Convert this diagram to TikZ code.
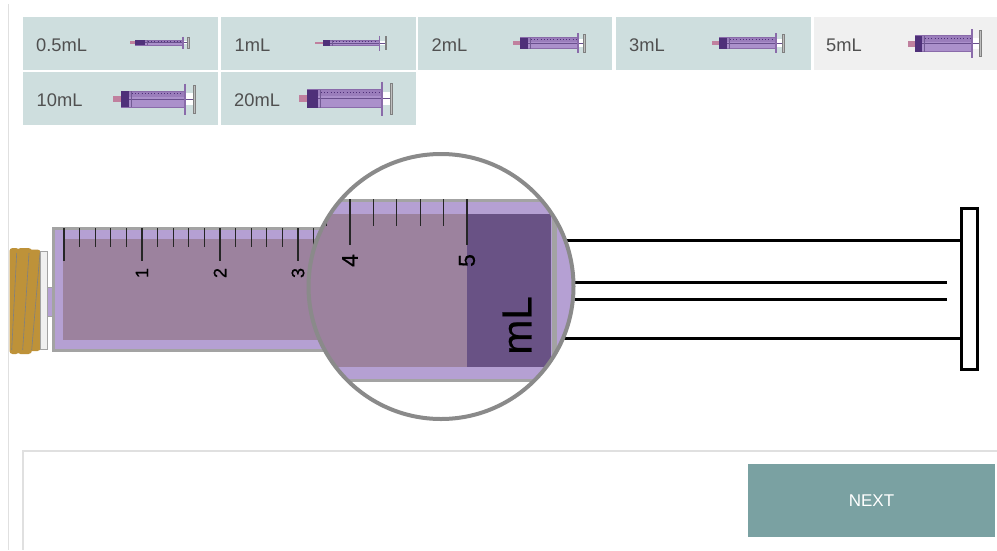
\documentclass[tikz,border=0pt]{standalone}
\usepackage{fontspec}
\setmainfont{Liberation Sans}
\newfontfamily\semib[FakeBold=0.6]{Liberation Sans}
\definecolor{tilec}{HTML}{CEDEDE}
\definecolor{tilesel}{HTML}{F0F0F0}
\definecolor{lilac}{HTML}{B5A0D3}
\definecolor{liquid}{HTML}{9C829E}
\definecolor{darkliq}{HTML}{695285}
\definecolor{barrelg}{HTML}{A3A3A3}
\definecolor{ringg}{HTML}{8A8A8A}
\definecolor{gold}{HTML}{BE9239}
\definecolor{btn}{HTML}{7AA1A2}
\definecolor{labc}{HTML}{505050}
\definecolor{mbar}{HTML}{AB90CB}
\definecolor{mband}{HTML}{9A7DBB}
\definecolor{mdark}{HTML}{4F3079}
\definecolor{mline}{HTML}{8A6BAA}
\definecolor{mtip}{HTML}{C0809E}
\tikzset{
  tilebox/.style={draw=none,fill=tilec,inner sep=0pt,minimum height=53pt,text width=0pt},
  tiletxt/.style={anchor=base west,inner sep=0pt,text=labc,font=\fontsize{18.3}{20}\selectfont},
  scalenum/.style={rotate=90,inner sep=0pt,text=black,font=\semib\fontsize{18}{18}\selectfont},
  bignum/.style={rotate=90,inner sep=0pt,text=black,font=\semib\fontsize{23}{23}\selectfont},
  tickline/.style={draw=black!85,line width=1.2pt},
  rod/.style={draw=black,line width=3pt},
}
% tipL tipR darkR barrelR endR cy hh fh
\newcommand{\minisyr}[8]{%
  \fill[mtip] (#1,#6-#7*0.3-0.6) rectangle (#2,#6+#7*0.3+0.6);
  \fill[white] (#4,#6-#7*0.7) rectangle (#5,#6+#7*0.7);
  \fill[mbar] (#2,#6-#7) rectangle (#4,#6+#7);
  \fill[mband] (#2,#6-#7) rectangle (#4,#6-#7*0.25);
  \draw[mline,line width=0.8pt] (#2,#6-#7) rectangle (#4,#6+#7);
  \fill[mdark] (#2,#6-#7) rectangle (#3,#6+#7);
  \draw[mdark!85,line width=0.8pt] (#3,#6) -- (#5-1,#6);
  \draw[mdark!80,line width=0.7pt] (#3+2.5,#6-#7) -- (#3+2.5,#6+#7);
  \draw[mdark,line width=0.7pt,dash pattern=on 1pt off 2.2pt] (#3+3,#6-#7*0.7) -- (#4-2,#6-#7*0.7);
  \draw[mline,line width=1.5pt] (#4,#6-#8) -- (#4,#6+#8);
  \draw[gray,fill=lightgray,line width=0.6pt] (#5-1.6,#6-#8*0.9) rectangle (#5,#6+#8*0.9);
}
\begin{document}
\begin{tikzpicture}[x=1pt,y=-1pt]
\useasboundingbox (0,0) rectangle (997,550);
\fill[white] (0,0) rectangle (997,550);
% page edge
\draw[black!12,line width=1pt] (8.5,4) -- (8.5,550);
% tiles
\node[tilebox,minimum width=195pt] (t1) at (120.5,43.5) {};
\node[tilebox,minimum width=195pt] (t2) at (318.2,43.5) {};
\node[tilebox,minimum width=194.5pt] (t3) at (515.2,43.5) {};
\node[tilebox,minimum width=195pt] (t4) at (713.5,43.5) {};
\node[tilebox,minimum width=183pt,fill=tilesel] (t5) at (905.5,43.5) {};
\node[tilebox,minimum width=195pt] (t6) at (120.5,98.5) {};
\node[tilebox,minimum width=195pt] (t7) at (318.2,98.5) {};
\node[tiletxt] (l1) at (36,51) {0.5mL};
\node[tiletxt] (l2) at (234.5,51) {1mL};
\node[tiletxt] (l3) at (431.5,51) {2mL};
\node[tiletxt] (l4) at (629,51) {3mL};
\node[tiletxt] (l5) at (826,51) {5mL};
\node[tiletxt] (l6) at (36.5,106.5) {10mL};
\node[tiletxt] (l7) at (234,106.5) {20mL};
% small syringes
\minisyr{129.5}{135}{145}{183}{189}{42.7}{2.4}{6}
\minisyr{315}{323}{330}{379.5}{386.5}{43}{2.6}{7.5}
\minisyr{513}{520}{528}{578}{585}{43}{5.5}{10}
\minisyr{712}{719}{727}{776}{784}{43}{5.5}{10}
\minisyr{908}{915}{922}{972}{981}{43.5}{8}{14.5}
\minisyr{113}{121}{129}{185}{195}{99}{8}{15.5}
\minisyr{299}{307}{318}{382}{392}{98.7}{9}{17}
% screw cap of the main syringe
\fill[gold,rounded corners=3pt] (9.5,248) rectangle (19,354);
\fill[gold,rounded corners=3.5pt] (17,248) rectangle (32,354);
\fill[gold,rounded corners=3pt] (26,249.5) rectangle (40.5,351);
\fill[gold] (9.5,249) rectangle (13,353);
\draw[gray,line width=0.6pt] (16.7,253) -- (11.7,350) (29,253) -- (22.7,350) (40,253) -- (31.7,350);
\draw[barrelg,fill=tilesel,line width=1pt] (40.8,251.5) rectangle (47.6,349);
\fill[lilac] (47.6,288) rectangle (53,316);
\draw[barrelg,line width=1pt] (47.6,287.5) -- (53,287.5) (47.6,316.5) -- (53,316.5);
% main barrel
\draw[barrelg,fill=lilac,line width=3pt] (53.5,228.5) rectangle (340,350.5);
\fill[liquid] (63,239) rectangle (340,340);
\foreach \i in {1,...,16}{
  \draw[tickline] ({64+15.6*\i},228) -- ({64+15.6*\i},247);
}
\foreach \xx in {64,142,220,298}{
  \draw[tickline] (\xx,228) -- (\xx,260.5);
}
\node[scalenum] (n1) at (142,273) {1};
\node[scalenum] (n2) at (220,273) {2};
\node[scalenum] (n3) at (298,273) {3};
% plunger rods
\draw[rod] (500,240.5) -- (961,240.5);
\draw[rod] (500,338.7) -- (961,338.7);
\draw[rod] (500,282.3) -- (946.7,282.3);
\draw[rod] (500,299.7) -- (946.7,299.7);
\draw[black,fill=white,line width=3pt] (961.5,208.5) rectangle (977.5,369.5);
% magnifier
\fill[white] (441,286.5) circle (132.5);
\begin{scope}
\clip (441,286.5) circle (132.5);
\draw[barrelg,fill=lilac,line width=3pt] (290,200.5) rectangle (620,380.5);
\fill[liquid] (290,214) rectangle (466.5,367);
\fill[darkliq] (466.5,214) rectangle (551,367);
\fill[barrelg] (552,218) rectangle (556.5,367);
\foreach \xx in {326.6,373.4,396.8,420.2,443.6}{
  \draw[tickline] (\xx,199) -- (\xx,226);
}
\foreach \xx in {350,467}{
  \draw[tickline] (\xx,199) -- (\xx,244.5);
}
\node[bignum] (n4) at (350,260.5) {4};
\node[bignum] (n5) at (467,260.5) {5};
\node[rotate=90,inner sep=0pt,text=black,font=\semib\fontsize{42}{42}\selectfont] (ml) at (517,325.5) {mL};
\end{scope}
\draw[ringg,line width=4pt] (441,286.5) circle (132.5);
% answer panel
\draw[black!12,line width=1.3pt] (23,550) -- (23,451) -- (997,451);
\node[fill=btn,text=white,inner sep=0pt,minimum width=247pt,minimum height=72.5pt,font=\fontsize{17}{20}\selectfont] (next) at (871.5,500.5) {NEXT};
\end{tikzpicture}
\end{document}
